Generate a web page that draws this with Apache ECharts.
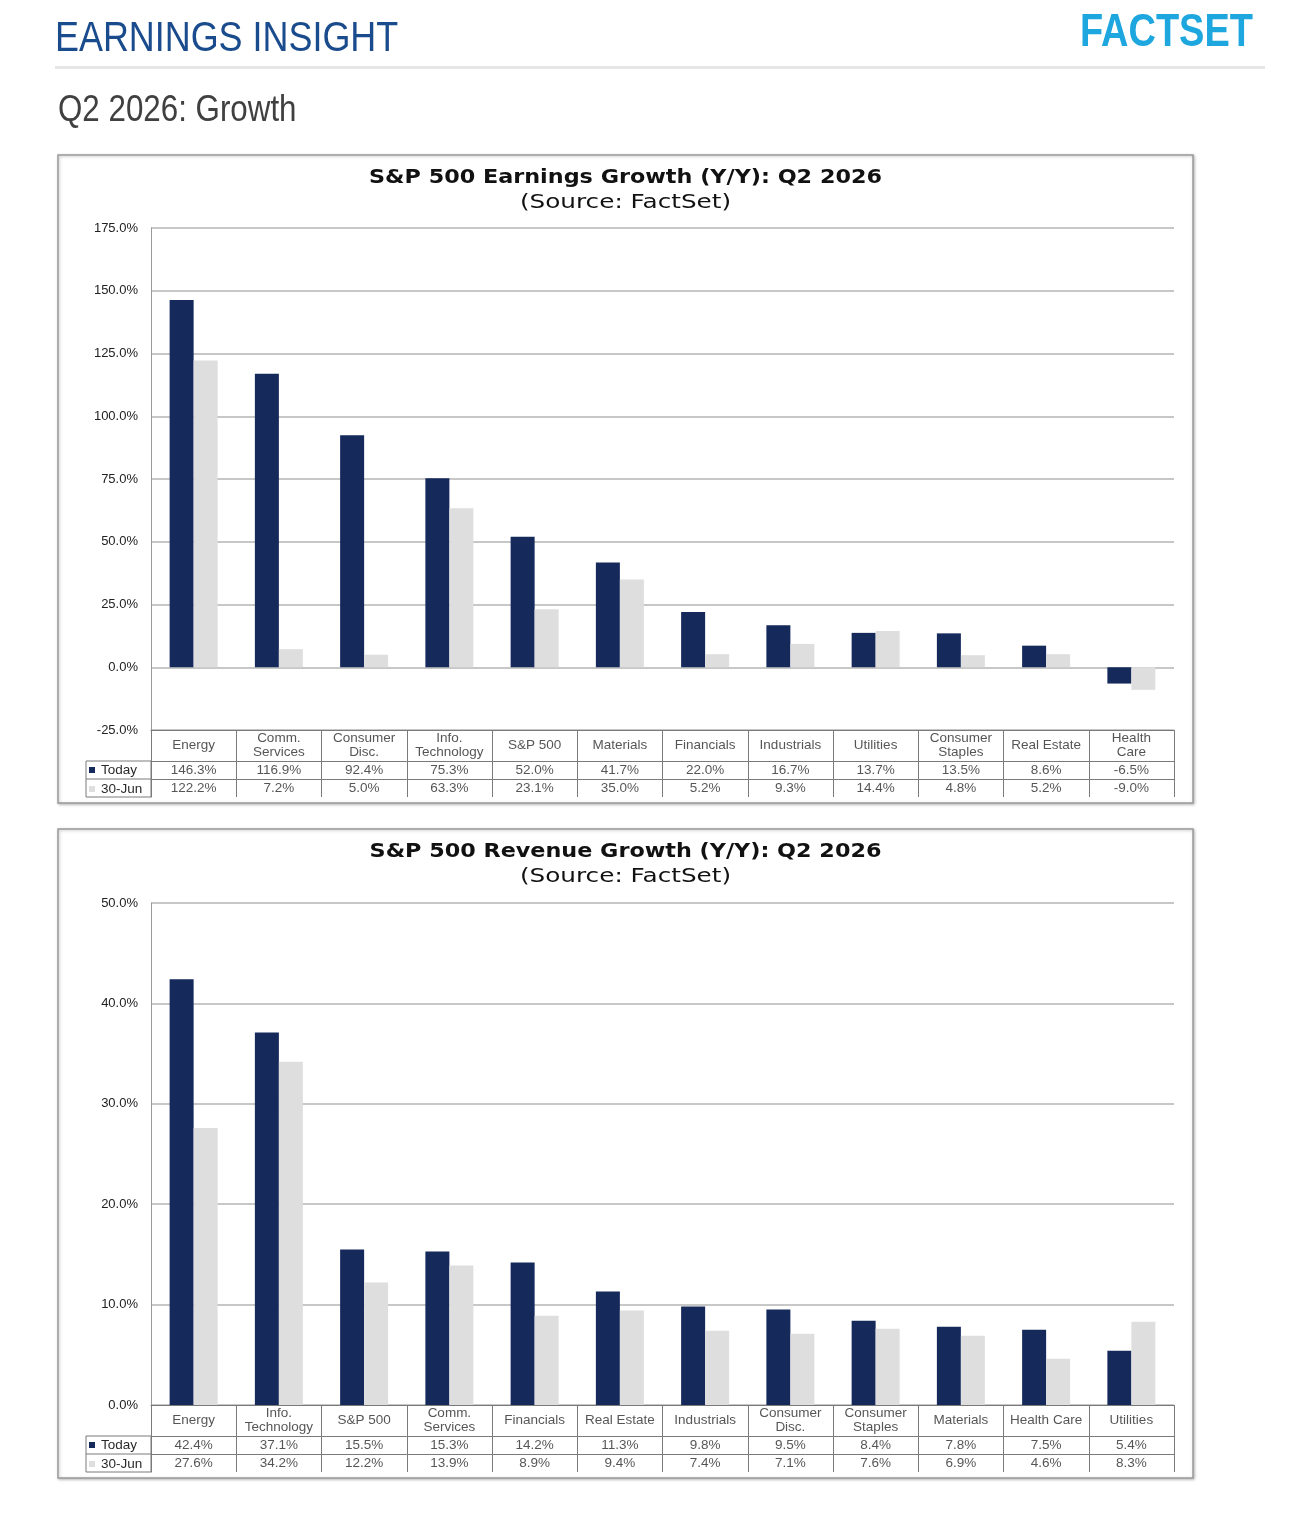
<!DOCTYPE html>
<html>
<head>
<meta charset="utf-8">
<script src="https://cdn.jsdelivr.net/npm/echarts@6/dist/echarts.min.js"></script>
<style>
html,body{margin:0;padding:0;background:#fff;}
#c{width:1312px;height:1515px;}
</style>
</head>
<body>
<div id="c"></div>
<script>
// ---- data ----
var earnCats = ['Energy','Comm.\nServices','Consumer\nDisc.','Info.\nTechnology','S&P 500','Materials','Financials','Industrials','Utilities','Consumer\nStaples','Real Estate','Health\nCare'];
var earnToday = [146.3,116.9,92.4,75.3,52.0,41.7,22.0,16.7,13.7,13.5,8.6,-6.5];
var earnJun = [122.2,7.2,5.0,63.3,23.1,35.0,5.2,9.3,14.4,4.8,5.2,-9.0];
var revCats = ['Energy','Info.\nTechnology','S&P 500','Comm.\nServices','Financials','Real Estate','Industrials','Consumer\nDisc.','Consumer\nStaples','Materials','Health Care','Utilities'];
var revToday = [42.4,37.1,15.5,15.3,14.2,11.3,9.8,9.5,8.4,7.8,7.5,5.4];
var revJun = [27.6,34.2,12.2,13.9,8.9,9.4,7.4,7.1,7.6,6.9,4.6,8.3];
var seriesNames = ['Today','30-Jun'];
var earnTicks = {min:-25,max:175,interval:25};
var revTicks = {min:0,max:50,interval:10};

// ---- styles ----
var DARK = '#15295b', LIGHT = '#dedede', GRIDC = '#b4b4b4', TBL = '#7a7a7a';
var chart = echarts.init(document.getElementById('c'));

var PL = 151, PW = 1023;
var layouts = [
  {plotTop:228, plotH:502, boxTop:155, boxH:648},
  {plotTop:903, plotH:502, boxTop:829, boxH:649}
];
var TH = 67;

function pct(v){return v.toFixed(1)+'%';}

var grid=[], xAxis=[], yAxis=[], series=[], legend=[], graphic=[];

function txt(x,y,text,font,fill,align,sx){
  return {type:'text',x:x,y:y,scaleX:sx||1,style:{text:text,font:font,fill:fill,align:align||'left',verticalAlign:'top'}};
}
graphic.push(txt(55,18,'EARNINGS INSIGHT','42px "Liberation Sans",Arial,sans-serif','#1a4b8c','left',0.855));
graphic.push(txt(1080,10,'FACTSET','bold 46px "Liberation Sans",Arial,sans-serif','#1ea6df','left',0.825));
graphic.push({type:'rect',shape:{x:55,y:66,width:1210,height:3},style:{fill:'#e6e6e6'}});
graphic.push(txt(58,93,'Q2 2026: Growth','36px "Liberation Sans",Arial,sans-serif','#404040','left',0.87));

var charts = [
  {cats:earnCats,today:earnToday,jun:earnJun,ticks:earnTicks,title:'S&P 500 Earnings Growth (Y/Y): Q2 2026'},
  {cats:revCats,today:revToday,jun:revJun,ticks:revTicks,title:'S&P 500 Revenue Growth (Y/Y): Q2 2026'}
];

charts.forEach(function(c,k){
  var L = layouts[k];
  var gi = k*2;
  // box
  graphic.push({type:'rect',z:-10,shape:{x:58,y:L.boxTop,width:1135,height:L.boxH},style:{fill:'#fff',stroke:'#9a9a9a',lineWidth:1.5,shadowBlur:3,shadowColor:'rgba(0,0,0,0.25)',shadowOffsetX:1,shadowOffsetY:1}});
  graphic.push(txt(625.5,L.boxTop+13,c.title,'bold 20px "DejaVu Sans",sans-serif','#111','center',1.115));
  graphic.push(txt(625.5,L.boxTop+38,'(Source: FactSet)','20px "DejaVu Sans",sans-serif','#111','center',1.235));
  // plot grid
  grid.push({left:PL,top:L.plotTop,width:PW,height:L.plotH});
  // table grid
  grid.push({left:PL,top:L.plotTop+L.plotH,width:PW,height:TH});
  xAxis.push({gridIndex:gi,type:'category',data:c.cats,axisLine:{show:false},axisTick:{show:false},axisLabel:{show:false}});
  yAxis.push({gridIndex:gi,type:'value',min:c.ticks.min,max:c.ticks.max,interval:c.ticks.interval,
    axisLine:{show:true,lineStyle:{color:'#9a9a9a',width:1}},axisTick:{show:false},
    axisLabel:{formatter:pct,color:'#222',fontFamily:'Liberation Sans',fontSize:13,margin:13},
    splitLine:{lineStyle:{color:GRIDC,width:1.5}}});
  xAxis.push({gridIndex:gi+1,type:'category',data:c.cats,boundaryGap:true,
    axisLine:{show:true,lineStyle:{color:TBL,width:1}},axisTick:{show:false},axisLabel:{show:false},
    splitLine:{show:true,lineStyle:{color:TBL,width:1}}});
  yAxis.push({gridIndex:gi+1,type:'value',min:0,max:TH,inverse:true,
    axisLine:{show:true,lineStyle:{color:TBL,width:1}},axisTick:{show:false},axisLabel:{show:false},splitLine:{show:false}});
  series.push({name:seriesNames[0],type:'bar',xAxisIndex:gi,yAxisIndex:gi,data:c.today,barWidth:24,barGap:'0%',itemStyle:{color:DARK}});
  series.push({name:seriesNames[1],type:'bar',xAxisIndex:gi,yAxisIndex:gi,data:c.jun,barWidth:24,barGap:'0%',itemStyle:{color:LIGHT}});
  // table text rows
  var rows = [
    {y:15.5,fmt:function(i){return c.cats[i];}},
    {y:40,fmt:function(i){return pct(c.today[i]);}},
    {y:58,fmt:function(i){return pct(c.jun[i]);}}
  ];
  rows.forEach(function(r,ri){
    var s = {type:'scatter',xAxisIndex:gi+1,yAxisIndex:gi+1,symbolSize:0,silent:true,
      data:c.cats.map(function(_,i){return [i,r.y];}),
      label:{show:true,position:'inside',color:'#2a2a2a',fontFamily:'Liberation Sans',fontSize:13.5,lineHeight:14,
        formatter:(function(f){return function(p){return f(p.dataIndex);};})(r.fmt)}};
    if(ri===0){
      s.markLine={silent:true,symbol:['none','none'],label:{show:false},lineStyle:{color:TBL,width:1,type:'solid'},
        data:[{yAxis:0},{yAxis:31},{yAxis:49}]};
    }
    series.push(s);
  });
  // legend cells
  var ty = L.plotTop+L.plotH;
  graphic.push({type:'rect',shape:{x:86,y:ty+31,width:PL-86,height:TH-31},style:{fill:'none',stroke:TBL,lineWidth:1}});
  graphic.push({type:'line',shape:{x1:86,y1:ty+49,x2:PL,y2:ty+49},style:{stroke:TBL,lineWidth:1}});
  legend.push({data:seriesNames,orient:'vertical',left:89,top:ty+33,padding:0,itemWidth:6,itemHeight:6,itemGap:5,icon:'rect',
    selectedMode:false,textStyle:{fontFamily:'Liberation Sans',fontSize:13.5,lineHeight:13,height:13,color:'#2a2a2a',padding:[0,0,0,1]}});
});

chart.setOption({
  animation:false,
  legend:legend,grid:grid,xAxis:xAxis,yAxis:yAxis,series:series,graphic:graphic
});
</script>
</body>
</html>
